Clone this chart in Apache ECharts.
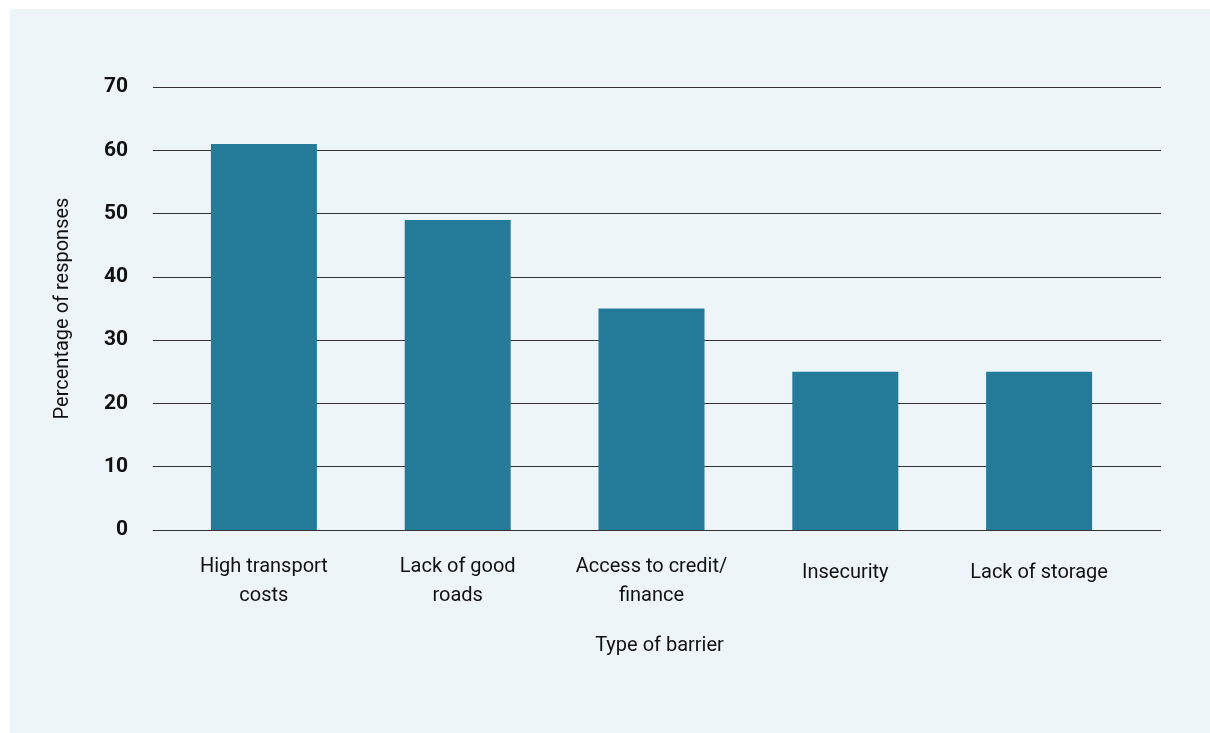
<!DOCTYPE html>
<html><head><meta charset="utf-8">
<script src="https://cdn.jsdelivr.net/npm/echarts@6/dist/echarts.min.js"></script>
<style>
html,body{margin:0;padding:0;background:#fff;width:1210px;height:733px;overflow:hidden}
#c{position:absolute;left:10px;top:9px;width:1200px;height:724px}
</style></head><body><div id="c"></div>
<script>
const categories = ['High transport\ncosts','Lack of good\nroads','Access to credit/\nfinance','Insecurity','Lack of storage'];
const values = [61, 49, 35, 25, 25];
const yTicks = [0,10,20,30,40,50,60,70];
const chart = echarts.init(document.getElementById('c'));
const font = 'Roboto, sans-serif';
const catData = categories.map(c => c.indexOf('\n') >= 0 ? c : {value:c, textStyle:{padding:[6,0,0,0]}});
chart.setOption({
  backgroundColor:'#EEF5F9',
  animation:false,
  grid:[{left:143,right:49,top:78,bottom:203},{left:157,right:74,top:78,bottom:203}],
  xAxis:[{type:'value',gridIndex:0,show:false,min:0,max:1},
    {type:'category',gridIndex:1,data:catData,
    name:'Type of barrier',nameLocation:'middle',nameGap:106,
    nameTextStyle:{fontFamily:font,fontSize:20,color:'#111',padding:[0,0,0,16]},
    axisLine:{show:false},axisTick:{show:false},
    axisLabel:{fontFamily:font,fontSize:20,color:'#111',lineHeight:29,margin:22,interval:0}}],
  yAxis:[{type:'value',gridIndex:0,min:yTicks[0],max:yTicks[yTicks.length-1],interval:10,
    name:'Percentage of responses',nameLocation:'middle',nameGap:80,nameRotate:90,
    nameTextStyle:{fontFamily:font,fontSize:20,color:'#111'},
    axisLine:{show:false},axisTick:{show:false},
    axisLabel:{fontFamily:font,fontSize:21,fontWeight:'bold',color:'#111',margin:25},
    splitLine:{lineStyle:{color:'#333',width:1}}},
    {type:'value',gridIndex:1,min:yTicks[0],max:yTicks[yTicks.length-1],interval:10,show:false,splitLine:{show:false}}],
  series:[{type:'bar',xAxisIndex:1,yAxisIndex:1,data:values,barWidth:106,itemStyle:{color:'#247B99'}}]
});
</script></body></html>
